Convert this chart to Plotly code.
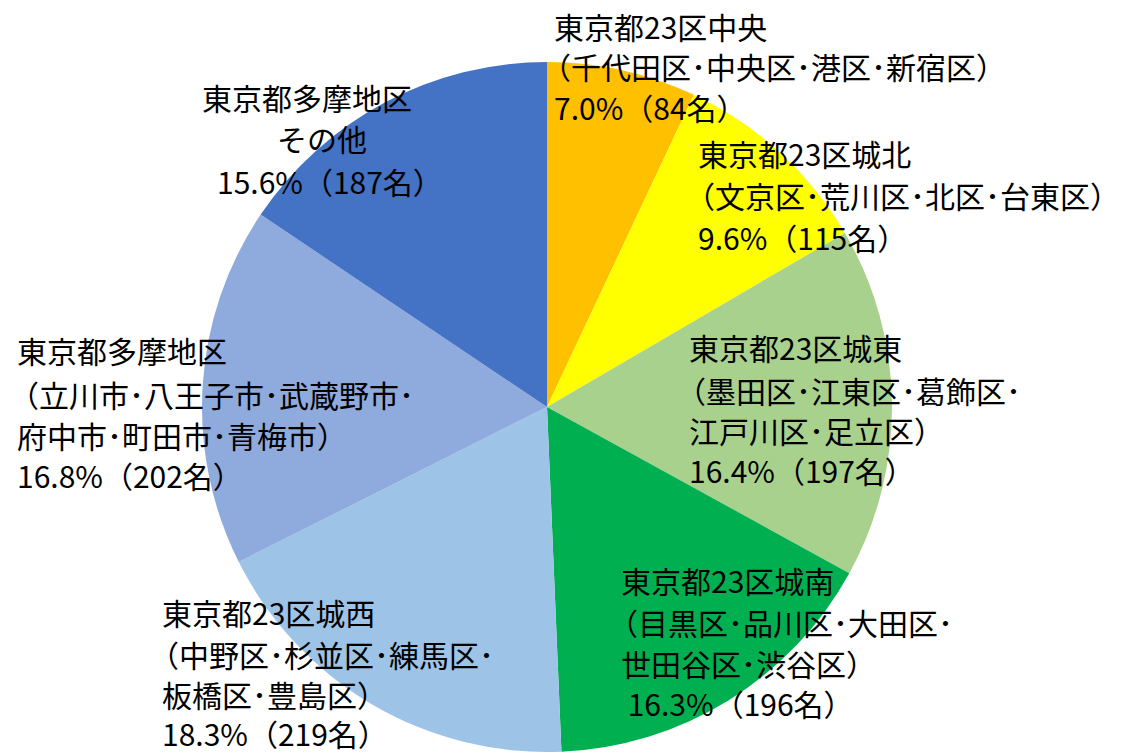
import plotly.graph_objects as go

# viewport is 1131x753 but the page body has an 8px margin -> figure 1123x745
OFF = 8
W, H = 1131 - OFF, 753 - OFF

regions = ["東京都23区中央", "東京都23区城北", "東京都23区城東", "東京都23区城南",
           "東京都23区城西", "東京都多摩地区", "東京都多摩地区その他"]
counts = [84, 115, 197, 196, 219, 202, 187]
colors = ["#FFC000", "#FFFF00", "#A9D18E", "#00B050", "#9DC3E6", "#8FAADC", "#4472C4"]

label_lines = [
    ["東京都23区中央", "（千代田区･中央区･港区･新宿区）", "7.0%（84名）"],
    ["東京都23区城北", "（文京区･荒川区･北区･台東区）", "9.6%（115名）"],
    ["東京都23区城東", "（墨田区･江東区･葛飾区･", "江戸川区･足立区）", "16.4%（197名）"],
    ["東京都23区城南", "（目黒区･品川区･大田区･", "世田谷区･渋谷区）", " 16.3%（196名）"],
    ["東京都23区城西", "（中野区･杉並区･練馬区･", "板橋区･豊島区）", "18.3%（219名）"],
    ["東京都多摩地区", "（立川市･八王子市･武蔵野市･", "府中市･町田市･青梅市）", "16.8%（202名）"],
    ["東京都多摩地区", "その他", "15.6%（187名）"],
]
# label placement in screen pixels (left x, centre y of each line)
label_x = [[553, 553, 553], [697, 697, 697], [688, 688, 688, 688],
           [620, 620, 620, 620], [161, 161, 161, 161], [16, 16, 16, 16],
           [201, 276, 216]]
label_y = [[26, 66, 107], [153, 195, 237], [347, 390, 430, 470],
           [580, 622, 663, 703], [612, 654, 694, 733], [350, 394, 435, 475],
           [97, 138, 181]]

cx, cy, r = 547 - OFF, 407 - OFF, 345

fig = go.Figure(go.Pie(
    labels=regions,
    values=counts,
    marker=dict(colors=colors, line=dict(width=0)),
    sort=False,
    direction="clockwise",
    rotation=0,
    textinfo="none",
    hoverinfo="label+value+percent",
    showlegend=False,
    domain=dict(x=[(cx - r) / W, (cx + r) / W],
                y=[(H - cy - r) / H, (H - cy + r) / H]),
))

FS = 30
annotations = []
for lines, xs, ys in zip(label_lines, label_x, label_y):
    for t, x, y in zip(lines, xs, ys):
        px = max(0, x - OFF - (13 if t.startswith("（") else 0))
        py = y - OFF
        annotations.append(dict(
            text=t, x=px / W, y=1 - py / H, xref="paper", yref="paper",
            xanchor="left", yanchor="middle", showarrow=False, borderpad=0,
            font=dict(family="Noto Sans CJK JP", size=FS, color="#000000"),
        ))

fig.update_layout(
    width=W, height=H,
    margin=dict(l=0, r=0, t=0, b=0),
    paper_bgcolor="white",
    plot_bgcolor="white",
    annotations=annotations,
)

fig.write_html("out.html")
